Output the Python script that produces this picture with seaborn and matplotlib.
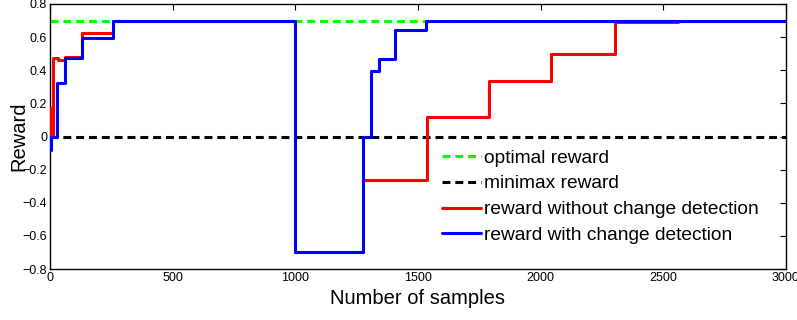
import numpy as np
import pandas as pd
import matplotlib
matplotlib.use("Agg")
import matplotlib.pyplot as plt
import seaborn as sns

# ---- data ----
red_x = [0, 4, 13, 34, 61, 129, 258, 1000, 1276, 1537, 1790, 2042, 2303, 2560, 3000]
red_y = [0.17, 0.0, 0.476, 0.462, 0.482, 0.623, 0.70, -0.70, -0.265, 0.115, 0.338, 0.497, 0.691, 0.70, 0.70]
blue_x = [0, 3, 28, 61, 129, 258, 1000, 1277, 1307, 1342, 1406, 1531, 3000]
blue_y = [-0.08, 0.0, 0.321, 0.476, 0.597, 0.70, -0.70, 0.0, 0.397, 0.468, 0.645, 0.70, 0.70]
opt_x = [0, 3000]
opt_y = [0.70, 0.70]
mm_x = [0, 3000]
mm_y = [0.0, 0.0]
labels = ["optimal reward", "minimax reward",
          "reward without change detection", "reward with change detection"]
x_ticks = [0, 500, 1000, 1500, 2000, 2500, 3000]
y_ticks = [-0.8, -0.6, -0.4, -0.2, 0, 0.2, 0.4, 0.6, 0.8]

sns.set_theme(style="white")
plt.rcParams['font.family'] = ['Liberation Sans', 'DejaVu Sans']

fig = plt.figure(figsize=(7.97, 3.20), dpi=100)
ax = fig.add_axes([50 / 797, 1 - 269 / 320, (786 - 50) / 797, (269 - 4) / 320])

lw = 2.2
dash = (0, (2.6, 1.6))
sns.lineplot(x=opt_x, y=opt_y, ax=ax, color="#00ff00", lw=lw, linestyle=dash,
             label=labels[0], zorder=2)
sns.lineplot(x=mm_x, y=mm_y, ax=ax, color="black", lw=lw, linestyle=dash,
             label=labels[1], zorder=2)
sns.lineplot(x=red_x, y=red_y, ax=ax, color="#ff0000", lw=lw, drawstyle="steps-post",
             label=labels[2], zorder=3, estimator=None, sort=False)
sns.lineplot(x=blue_x, y=blue_y, ax=ax, color="#0000ff", lw=lw, drawstyle="steps-post",
             label=labels[3], zorder=4, estimator=None, sort=False)

ax.set_xlim(0, 3000)
ax.set_ylim(-0.8, 0.8)
ax.set_xticks(x_ticks)
ax.set_xticklabels([str(t) for t in x_ticks])
ax.set_yticks(y_ticks)
ax.set_yticklabels(["0" if t == 0 else f"{t:.1f}".replace("-", "\u2212") for t in y_ticks])
ax.tick_params(direction="in", length=4, width=0.8, top=True, right=True,
               labelsize=9, colors="black", pad=2)
for s in ax.spines.values():
    s.set_visible(True)
    s.set_color("black")
    s.set_linewidth(1.0)

ax.set_xlabel("Number of samples", fontsize=14.5, color="black")
ax.set_ylabel("Reward", fontsize=14.5, color="black")
ax.yaxis.set_label_coords(-0.030, 0.5)
ax.xaxis.set_label_coords(0.5, -0.075)
ax.xaxis.label.set_va("top")

leg = ax.legend(loc="upper left", bbox_to_anchor=(0.533, 0.452), frameon=False,
                fontsize=13.8, handlelength=2.0, handletextpad=0.2, labelspacing=0.44,
                borderaxespad=0, borderpad=0)
for t in leg.get_texts():
    t.set_color("black")

fig.savefig("out.png", dpi=100)
